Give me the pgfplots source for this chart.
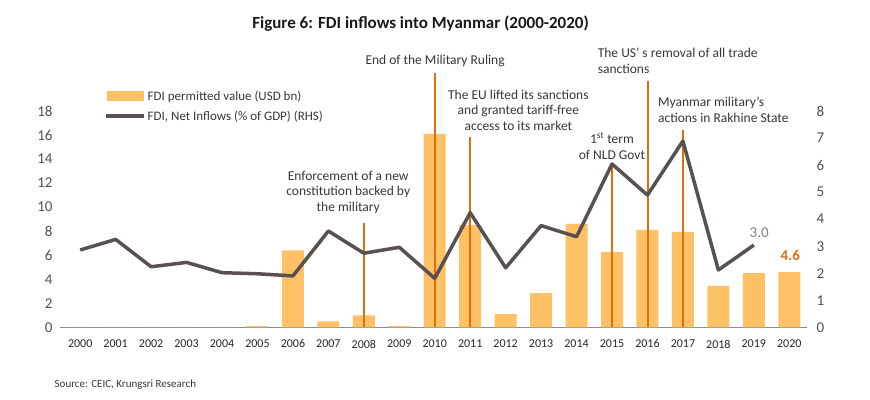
\documentclass[border=0pt]{standalone}
\usepackage{fontspec}
\setmainfont{Carlito}
\usepackage{pgfplots}
\pgfplotsset{compat=1.18}
\definecolor{barc}{RGB}{255,193,102}
\definecolor{linec}{RGB}{89,80,80}
\definecolor{vc}{RGB}{228,108,10}
\definecolor{txt}{RGB}{55,55,55}
\definecolor{tickc}{RGB}{80,80,80}
\pgfplotsset{base/.style={width=747pt,height=216.3pt,scale only axis,
  xmin=-0.57, xmax=20.5, clip=false,
  tick style={draw=none},
  /pgf/number format/assume math mode=true,
  yticklabel style={font=\fontsize{15}{17}\selectfont, text=tickc},
  xticklabel style={font=\fontsize{12}{13}\selectfont, text=black!85},
}}
\begin{document}
\begin{tikzpicture}
\begin{axis}[base, ymin=0, ymax=18, ytick={0,2,...,18},
  xtick={0,...,20},
  xticklabels={2000,2001,2002,2003,2004,2005,2006,2007,2008,2009,2010,2011,2012,2013,2014,2015,2016,2017,2018,2019,2020},
  axis x line*=bottom, axis y line*=left,
  x axis line style={draw=black!45, line width=1pt, -},
  y axis line style={draw=none},
  yticklabel style={anchor=east, xshift=-4pt},
  xticklabel style={yshift=-9pt},
]
\addplot[ybar, bar width=22pt, fill=barc, draw=none] coordinates {
 (0,0) (1,0) (2,0) (3,0) (4,0) (5,0.1) (6,6.4) (7,0.5) (8,1.0) (9,0.1)
 (10,16.1) (11,8.5) (12,1.1) (13,2.85) (14,8.6) (15,6.25) (16,8.1)
 (17,7.95) (18,3.45) (19,4.5) (20,4.6)};
\addplot[vc, line width=2pt] coordinates {(8,0) (8,8.67)};
\addplot[vc, line width=2pt] coordinates {(10,0) (10,21.2)};
\addplot[vc, line width=2pt] coordinates {(11,0) (11,15.85)};
\addplot[vc, line width=2pt] coordinates {(15,0) (15,13.6)};
\addplot[vc, line width=2pt] coordinates {(16.02,0) (16.02,20.5)};
\addplot[vc, line width=2pt] coordinates {(17,0) (17,16.4)};
\begin{scope}[every node/.style={font=\fontsize{13.5}{15.5}\selectfont, text=txt}]
\node[align=center] at (axis cs:10.01,22.2) {End of the Military Ruling};
\node[align=center] at (axis cs:12.36,18.06) {The EU lifted its sanctions\\and granted tariff-free\\access to its market};
\node[align=center] at (axis cs:7.56,11.25) {Enforcement of a new\\constitution backed by\\the military};
\node[align=center] at (axis cs:15.0,15.1) {1\textsuperscript{st} term\\of NLD Govt};
\node[align=left, anchor=west] at (axis cs:14.5,22.18) {The US’ s removal of all trade\\sanctions};
\node[align=left, anchor=west] at (axis cs:16.2,18.1) {Myanmar military’s\\actions in Rakhine State};
\end{scope}
\node[font=\fontsize{15}{17}\selectfont, text=black!50] at (axis cs:19.15,7.84) {3.0};
\node[font=\bfseries\fontsize{15}{17}\selectfont, text=vc] at (axis cs:20.03,6.0) {4.6};
\node[font=\bfseries\fontsize{17}{19}\selectfont, text=black!90] at (axis cs:9.6,25.3) {Figure 6: FDI inflows into Myanmar (2000-2020)};
\node[font=\fontsize{11}{13}\selectfont, text=txt, anchor=west] at (axis cs:-0.82,-4.8) {Source: CEIC, Krungsri Research};
\end{axis}
\begin{axis}[base, ymin=0, ymax=8, ytick={0,...,8},
  axis y line*=right, axis x line=none,
  y axis line style={draw=none},
  yticklabel style={anchor=west, xshift=6pt},
  legend style={at={(axis description cs:0.0589,1.105)}, anchor=north west,
    draw=none, fill=none, inner sep=0pt, row sep=5pt,
    font=\fontsize{13}{15}\selectfont, text=txt},
  legend cell align=left,
]
\addlegendimage{legend image code/.code={\fill[barc] (0pt,-4.5pt) rectangle (36pt,4.5pt);}}
\addlegendentry{FDI permitted value (USD bn)}
\addplot[linec, line width=3.5pt, line join=round,
  legend image code/.code={\draw[linec, line width=3.5pt] (-1pt,0pt) -- (37pt,0pt);}] coordinates {
 (0,2.86) (1,3.25) (2,2.24) (3,2.40) (4,2.02) (5,1.98) (6,1.90) (7,3.56)
 (8,2.74) (9,2.96) (10,1.81) (11,4.24) (12,2.20) (13,3.76) (14,3.35)
 (15,6.04) (16,4.89) (17,6.89) (18,2.12) (19,3.04)};
\addlegendentry{FDI, Net Inflows (\% of GDP) (RHS)}
\end{axis}
\pgfresetboundingbox
\path[use as bounding box] (-60pt,-71.7pt) rectangle (810pt,327.3pt);
\end{tikzpicture}
\end{document}
